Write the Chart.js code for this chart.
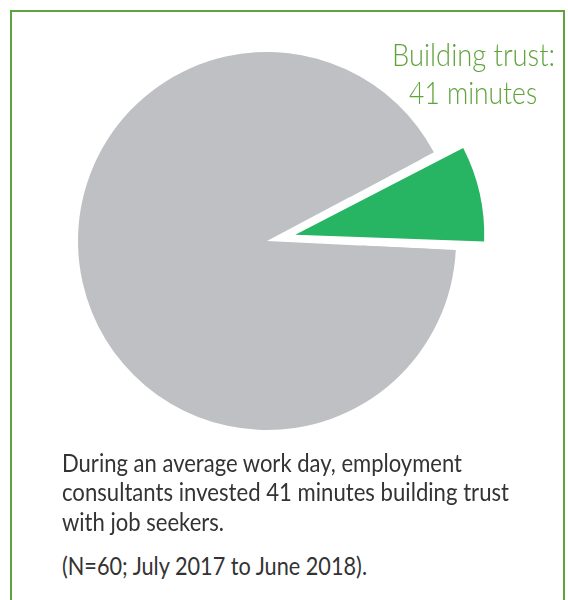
<!DOCTYPE html>
<html>
<head>
<meta charset="utf-8">
<script src="https://cdn.jsdelivr.net/npm/chart.js@4.4.1/dist/chart.umd.min.js"></script>
<style>
  html, body { margin: 0; padding: 0; background: #ffffff; width: 568px; height: 600px; overflow: hidden; }
  #frame { position: absolute; left: 10px; top: 10px; width: 555px; height: 620px; box-sizing: border-box;
           border: 2px solid #5FA33B; }
  #wrap { position: absolute; left: 33px; top: 7px; width: 468px; height: 468px; }
  .txt { font-family: 'Lato', 'Noto Sans', sans-serif; }
  .line { display: block; white-space: nowrap; }
  .line span { display: inline-block; white-space: nowrap; }
  #label { position: absolute; left: 373.5px; top: 35px; width: 200px; text-align: center; color: #5FA33B;
           font-size: 31px; line-height: 38px; font-weight: 300; }
  #label .line span { transform-origin: 50% 50%; }
  #caption, #note { position: absolute; left: 62px; color: #333333; font-size: 24.5px; line-height: 29.5px; }
  #caption { top: 447.8px; }
  #note { top: 551.3px; }
  #caption .line span, #note .line span { transform-origin: 0 50%; }
</style>
</head>
<body>
<div id="frame"></div>
<div id="wrap"><canvas id="c" width="468" height="468" style="width:468px;height:468px"></canvas></div>
<div id="label" class="txt"></div>
<div id="caption" class="txt"></div>
<div id="note" class="txt"></div>
<script>
// ---- data (minutes in an average 8-hour work day) ----
const categories = ['Building trust', 'Other work'];
const minutes = [41, 439];
const labelLines = ['Building trust:', '41 minutes'];
const captionLines = [
  'During an average work day, employment',
  'consultants invested 41 minutes building trust',
  'with job seekers.'
];
const noteLines = ['(N=60; July 2017 to June 2018).'];

// ---- styles ----
const GREEN = '#27B463';
const GRAY = '#BFC0C4';
const labelWidths = [163, 128];
const captionWidths = [400, 447, 162];
const noteWidths = [305];

function fill(id, lines, widths) {
  const box = document.getElementById(id);
  lines.forEach((t, i) => {
    const row = document.createElement('div');
    row.className = 'line';
    const s = document.createElement('span');
    s.textContent = t;
    row.appendChild(s);
    box.appendChild(row);
    const w = s.getBoundingClientRect().width;
    if (w > 0) s.style.transform = 'scaleX(' + (widths[i] / w) + ')';
  });
}
fill('label', labelLines, labelWidths);
fill('caption', captionLines, captionWidths);
fill('note', noteLines, noteWidths);

new Chart(document.getElementById('c'), {
  type: 'pie',
  data: {
    labels: categories,
    datasets: [
      { // outer ring of the unexploded slice
        data: minutes,
        backgroundColor: ['rgba(0,0,0,0)', GRAY],
        borderWidth: 0,
        radius: 189,
        weight: 1
      },
      { // inner part with the exploded slice
        data: minutes,
        backgroundColor: [GREEN, GRAY],
        borderWidth: 0,
        offset: [116, 0],
        radius: 349.6,
        weight: 1
      }
    ]
  },
  options: {
    responsive: false,
    animation: false,
    events: [],
    rotation: 62,
    layout: { padding: 0 },
    plugins: { legend: { display: false }, tooltip: { enabled: false } }
  }
});
</script>
</body>
</html>
